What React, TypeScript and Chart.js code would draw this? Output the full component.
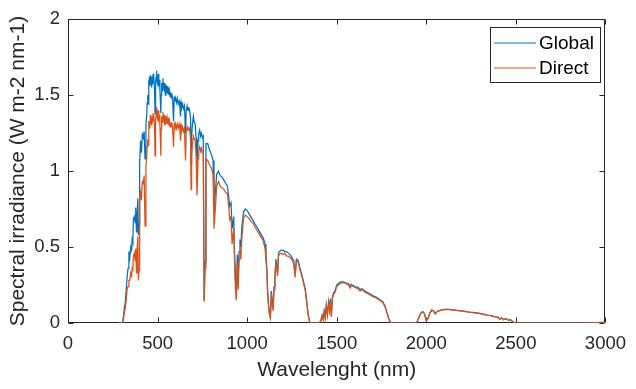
import React, { useEffect, useRef } from "react";
import { Chart, registerables } from "chart.js";

Chart.register(...registerables);

const wavelength: number[] = [
  280, 300, 305, 310, 315, 320, 325, 330, 335, 340, 345, 350, 355, 358, 362, 365, 370, 375, 378, 382,
  385, 390, 393, 397, 400, 405, 410, 415, 420, 425, 430, 435,
  440, 442, 445, 447, 450, 452, 455, 457, 460, 462,
  465, 467, 470, 472, 475, 477, 480, 483, 486, 488,
  490, 492, 495, 497, 500, 502, 505, 507, 510, 513,
  516, 518, 520, 523, 526, 530, 533, 536, 539, 541,
  544, 547, 550, 553, 556, 560, 563, 566, 570, 573,
  577, 580, 584, 589, 593, 597, 600, 605, 610, 615,
  620, 625, 628, 632, 636, 640, 645, 650, 656, 660,
  665, 670, 675, 680, 684, 687, 690, 694, 700, 705,
  710, 715, 720, 726, 730, 735, 740, 745, 750, 755,
  760, 765, 770, 780, 790, 800, 810, 815, 822, 830, 840, 850, 860, 870, 880, 890, 898, 903, 910,
  916, 925, 930, 935, 940, 945, 950, 955, 960, 965, 970, 980, 990, 1000, 1010, 1020, 1030, 1040, 1050, 1060,
  1070, 1080, 1090, 1100, 1105, 1110, 1115, 1120, 1125, 1130, 1135, 1140, 1145, 1150, 1155, 1160, 1165, 1170, 1175, 1180,
  1190, 1200, 1210, 1220, 1230, 1240, 1250, 1260, 1268, 1275, 1285, 1295, 1305, 1315, 1325, 1333, 1340, 1348, 1352, 1400,
  1410, 1419, 1425, 1430, 1436, 1442, 1448, 1455, 1460, 1465, 1470, 1476, 1483, 1490, 1500, 1510, 1520, 1537, 1550, 1565,
  1575, 1580, 1600, 1620, 1630, 1640, 1656, 1680, 1700, 1720, 1740, 1757, 1770, 1780, 1790, 1800, 1810, 1940, 1950, 1960,
  1970, 1980, 1990, 2000, 2010, 2020, 2030, 2040, 2050, 2060, 2070, 2090, 2110, 2130, 2150, 2180, 2210, 2240, 2270, 2300,
  2320, 2340, 2360, 2380, 2400, 2410, 2420, 2430, 2445, 2460, 2470, 2480, 2490, 2500, 2900, 2950, 2980, 3000,
];

const globalIrr: number[] = [
  0, 0, 0.01, 0.05, 0.1, 0.14, 0.22, 0.3, 0.36, 0.47, 0.43, 0.5, 0.48, 0.55, 0.53, 0.68, 0.7, 0.66, 0.76, 0.6,
  0.7, 0.82, 0.58, 0.65, 1.05, 1.2, 1.12, 1.24, 1.22, 1.26, 1.08, 1.3,
  1.38, 1.45, 1.5, 1.44, 1.6, 1.55, 1.62, 1.56, 1.63, 1.57,
  1.61, 1.55, 1.62, 1.57, 1.64, 1.58, 1.62, 1.55, 1.38, 1.52,
  1.58, 1.62, 1.66, 1.59, 1.63, 1.57, 1.64, 1.56, 1.6, 1.54,
  1.45, 1.38, 1.5, 1.58, 1.53, 1.61, 1.54, 1.58, 1.52, 1.56,
  1.5, 1.57, 1.53, 1.56, 1.51, 1.55, 1.5, 1.53, 1.49, 1.52,
  1.48, 1.51, 1.47, 1.33, 1.49, 1.46, 1.48, 1.45, 1.48, 1.44,
  1.46, 1.42, 1.36, 1.45, 1.42, 1.44, 1.41, 1.43, 1.25, 1.4,
  1.43, 1.4, 1.42, 1.39, 1.35, 1.05, 1.22, 1.3, 1.36, 1.32,
  1.31, 1.22, 1.02, 1.2, 1.25, 1.27, 1.23, 1.25, 1.22, 1.23,
  0.15, 0.4, 1.18, 1.18, 1.14, 1.11, 1.07, 0.75, 0.85, 0.98, 1.0, 0.97, 0.96, 0.94, 0.92, 0.9, 0.82, 0.77, 0.79,
  0.62, 0.7, 0.45, 0.3, 0.16, 0.45, 0.3, 0.47, 0.55, 0.5, 0.63, 0.73, 0.75, 0.74, 0.72, 0.7, 0.68, 0.66, 0.64, 0.62,
  0.6, 0.58, 0.56, 0.52, 0.45, 0.36, 0.2, 0.12, 0.06, 0.04, 0.21, 0.15, 0.1, 0.24, 0.3, 0.42, 0.38, 0.33, 0.46, 0.47,
  0.48, 0.48, 0.47, 0.47, 0.46, 0.45, 0.43, 0.41, 0.32, 0.42, 0.41, 0.36, 0.32, 0.27, 0.22, 0.14, 0.06, 0.01, 0, 0,
  0.01, 0.05, 0.02, 0.08, 0.04, 0.12, 0.06, 0.14, 0.09, 0.16, 0.05, 0.17, 0.2, 0.21, 0.25, 0.26, 0.27, 0.27, 0.265, 0.26,
  0.24, 0.255, 0.24, 0.235, 0.22, 0.225, 0.21, 0.195, 0.18, 0.17, 0.155, 0.14, 0.11, 0.07, 0.03, 0.005, 0, 0, 0.01, 0.04,
  0.065, 0.075, 0.06, 0.015, 0.03, 0.065, 0.085, 0.08, 0.06, 0.075, 0.08, 0.088, 0.09, 0.089, 0.086, 0.082, 0.078, 0.072, 0.068, 0.063,
  0.058, 0.052, 0.05, 0.042, 0.038, 0.025, 0.035, 0.022, 0.03, 0.018, 0.022, 0.012, 0.004, 0, 0, 0.002, 0.004, 0.003,
];

const directIrr: number[] = [
  0, 0, 0.005, 0.03, 0.07, 0.1, 0.15, 0.22, 0.24, 0.28, 0.28, 0.33, 0.31, 0.36, 0.35, 0.44, 0.46, 0.41, 0.49, 0.33,
  0.47, 0.57, 0.28, 0.35, 0.8, 0.86, 0.81, 0.93, 0.92, 0.97, 0.64, 1.02,
  1.1, 1.16, 1.21, 1.17, 1.33, 1.27, 1.32, 1.28, 1.37, 1.31,
  1.35, 1.3, 1.36, 1.32, 1.38, 1.33, 1.37, 1.3, 1.1, 1.27,
  1.33, 1.38, 1.42, 1.36, 1.4, 1.34, 1.4, 1.33, 1.37, 1.31,
  1.2, 1.1, 1.28, 1.36, 1.32, 1.39, 1.33, 1.37, 1.3, 1.37,
  1.31, 1.36, 1.33, 1.35, 1.31, 1.35, 1.3, 1.33, 1.29, 1.32,
  1.29, 1.32, 1.28, 1.16, 1.31, 1.29, 1.31, 1.28, 1.31, 1.28,
  1.31, 1.27, 1.2, 1.3, 1.27, 1.29, 1.26, 1.28, 1.07, 1.26,
  1.29, 1.27, 1.29, 1.26, 1.22, 0.88, 1.1, 1.17, 1.23, 1.21,
  1.2, 1.1, 0.84, 1.08, 1.14, 1.16, 1.13, 1.15, 1.12, 1.12,
  0.14, 0.36, 1.08, 1.07, 1.04, 1.02, 0.98, 0.62, 0.74, 0.9, 0.93, 0.9, 0.89, 0.88, 0.86, 0.85, 0.75, 0.68, 0.7,
  0.52, 0.62, 0.38, 0.22, 0.15, 0.4, 0.22, 0.42, 0.48, 0.42, 0.55, 0.69, 0.71, 0.7, 0.69, 0.67, 0.66, 0.64, 0.62, 0.6,
  0.58, 0.56, 0.54, 0.49, 0.42, 0.33, 0.17, 0.1, 0.05, 0.03, 0.19, 0.12, 0.08, 0.22, 0.27, 0.4, 0.35, 0.31, 0.44, 0.45,
  0.46, 0.45, 0.46, 0.44, 0.44, 0.43, 0.42, 0.39, 0.3, 0.41, 0.4, 0.35, 0.31, 0.26, 0.21, 0.13, 0.06, 0.01, 0, 0,
  0.01, 0.05, 0.02, 0.07, 0.03, 0.11, 0.05, 0.13, 0.08, 0.15, 0.04, 0.16, 0.19, 0.2, 0.24, 0.25, 0.26, 0.265, 0.26, 0.25,
  0.23, 0.245, 0.235, 0.225, 0.21, 0.22, 0.205, 0.19, 0.175, 0.165, 0.15, 0.135, 0.105, 0.07, 0.03, 0.005, 0, 0, 0.01, 0.04,
  0.065, 0.075, 0.06, 0.015, 0.03, 0.065, 0.085, 0.08, 0.06, 0.075, 0.08, 0.087, 0.089, 0.088, 0.085, 0.081, 0.077, 0.071, 0.067, 0.062,
  0.057, 0.051, 0.049, 0.041, 0.037, 0.024, 0.034, 0.021, 0.029, 0.017, 0.021, 0.011, 0.004, 0, 0, 0.002, 0.004, 0.003,
];

const seriesNames: string[] = ["Global", "Direct"];
const seriesColors: string[] = ["#0072BD", "#D95319"];
const xTitle = "Wavelenght (nm)";
const yTitle = "Spectral irradiance (W m-2 nm-1)";

const FONT = "'Liberation Sans', Arial, Helvetica, sans-serif";
const AXIS_COLOR = "#262626";

const boxPlugin = {
  id: "matlabBox",
  beforeDatasetsDraw(chart: any) {
    const { ctx, chartArea } = chart;
    const { left, right, top, bottom } = chartArea;
    const L = Math.round(left) + 0.5;
    const R = Math.round(right) - 0.5;
    const T = Math.round(top) + 0.5;
    const B = Math.round(bottom) - 0.5;
    ctx.save();
    ctx.strokeStyle = AXIS_COLOR;
    ctx.lineWidth = 1;
    ctx.strokeRect(L, T, R - L, B - T);
    const tl = 5;
    ctx.beginPath();
    const xs = chart.scales.x;
    xs.ticks.forEach((t: any) => {
      const px = Math.round(xs.getPixelForValue(t.value)) + 0.5;
      ctx.moveTo(px, B);
      ctx.lineTo(px, B - tl);
      ctx.moveTo(px, T);
      ctx.lineTo(px, T + tl);
    });
    const ys = chart.scales.y;
    ys.ticks.forEach((t: any) => {
      const py = Math.round(ys.getPixelForValue(t.value)) + 0.5;
      ctx.moveTo(L, py);
      ctx.lineTo(L + tl, py);
      ctx.moveTo(R, py);
      ctx.lineTo(R - tl, py);
    });
    ctx.stroke();
    ctx.restore();
  },
  afterDraw(chart: any) {
    const { ctx } = chart;
    ctx.save();
    const bx = 490.5, by = 27.5, bw = 110, bh = 55;
    ctx.fillStyle = "#ffffff";
    ctx.fillRect(bx, by, bw, bh);
    ctx.strokeStyle = AXIS_COLOR;
    ctx.lineWidth = 1;
    ctx.strokeRect(bx, by, bw, bh);
    const rows = [43, 68];
    seriesNames.forEach((name, i) => {
      ctx.strokeStyle = seriesColors[i];
      ctx.beginPath();
      ctx.moveTo(494, rows[i]);
      ctx.lineTo(536, rows[i]);
      ctx.stroke();
      ctx.fillStyle = "#000000";
      ctx.font = `19px ${FONT}`;
      ctx.textBaseline = "middle";
      ctx.textAlign = "left";
      ctx.fillText(name, 539, rows[i] + 1);
    });
    ctx.restore();
  },
};

export default function App() {
  const ref = useRef<HTMLCanvasElement | null>(null);
  useEffect(() => {
    if (!ref.current) return;
    const irr = [globalIrr, directIrr];
    const chart = new Chart(ref.current, {
      type: "line",
      data: {
        datasets: seriesNames.map((name, i) => ({
          label: name,
          data: wavelength.map((w, j) => ({ x: w, y: irr[i][j] })),
          borderColor: seriesColors[i],
          backgroundColor: seriesColors[i],
          borderWidth: 1.25,
          pointRadius: 0,
          tension: 0,
          fill: false,
          order: i === 0 ? 1 : 0,
        })),
      },
      options: {
        animation: false,
        responsive: false,
        devicePixelRatio: 1,
        layout: { padding: { top: 14, right: 21, left: 0, bottom: 0 } },
        plugins: { legend: { display: false }, tooltip: { enabled: false } },
        scales: {
          x: {
            type: "linear",
            min: 0,
            max: 3000,
            afterFit: (s: any) => { s.height = 66; },
            grid: { display: false, drawTicks: false },
            border: { display: false },
            ticks: {
              stepSize: 500,
              padding: 10,
              color: AXIS_COLOR,
              font: { family: FONT, size: 18.5 },
              maxRotation: 0,
              callback: (v: any) => String(v),
            },
            title: {
              display: true,
              text: xTitle,
              color: AXIS_COLOR,
              font: { family: FONT, size: 21 },
              padding: { top: 0, bottom: 6 },
            },
          },
          y: {
            type: "linear",
            min: 0,
            max: 2,
            afterFit: (s: any) => { s.width = 68; },
            grid: { display: false, drawTicks: false },
            border: { display: false },
            ticks: {
              stepSize: 0.5,
              padding: 8,
              color: AXIS_COLOR,
              font: { family: FONT, size: 18.5 },
              callback: (v: any) => String(v),
            },
            title: {
              display: true,
              text: yTitle,
              color: AXIS_COLOR,
              font: { family: FONT, size: 21 },
              padding: { top: 6, bottom: 0 },
            },
          },
        },
      },
      plugins: [boxPlugin],
    });
    return () => chart.destroy();
  }, []);
  return (
    <div style={{ position: "absolute", left: 0, top: 0, width: 636, height: 389, background: "#fff" }}>
      <canvas ref={ref} width={636} height={389} />
    </div>
  );
}
